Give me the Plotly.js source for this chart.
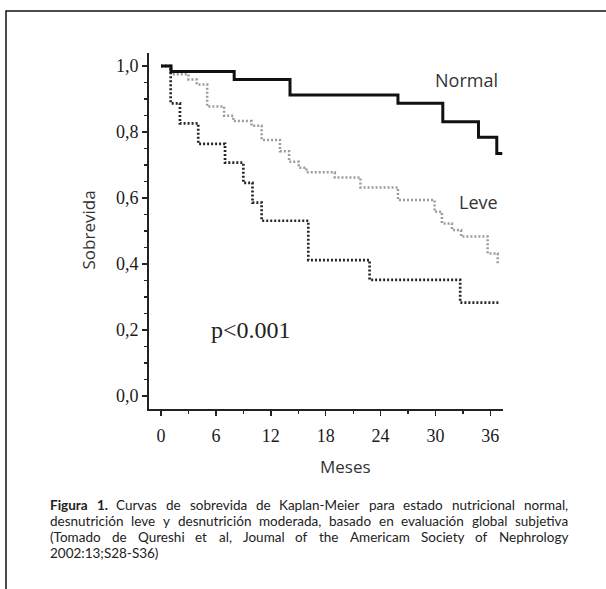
<!DOCTYPE html>
<html>
<head>
<meta charset="utf-8">
<script src="https://cdn.plot.ly/plotly-3.0.1.min.js"></script>
<style>
  html, body { margin: 0; padding: 0; background: #fff; overflow: hidden; }
  #chart { width: 606px; height: 589px; }
  #measure { position: absolute; left: -9999px; top: 0; white-space: pre; visibility: hidden; }
</style>
</head>
<body>
<div id="chart"></div>
<span id="measure"></span>
<script>
// ---- Data ----
const normalMonths = [0, 1.1, 8.0, 14.1, 25.9, 30.8, 34.7, 36.7, 37.3];
const normalSurv   = [1.0, 0.983, 0.959, 0.912, 0.887, 0.831, 0.784, 0.735, 0.735];

const leveMonths = [0, 1.1, 3.0, 3.9, 5.05, 6.9, 7.9, 9.9, 11.0, 13.0, 14.0, 15.05, 15.9, 19.0, 21.8, 25.9, 29.9, 30.7, 31.8, 32.8, 35.7, 36.8, 37.0];
const leveSurv   = [1.0, 0.975, 0.959, 0.944, 0.877, 0.849, 0.833, 0.819, 0.776, 0.742, 0.71, 0.692, 0.678, 0.662, 0.632, 0.594, 0.558, 0.523, 0.503, 0.483, 0.432, 0.402, 0.402];

const moderadaMonths = [0, 1.06, 2.07, 4.07, 7.0, 9.0, 10.0, 11.0, 16.1, 22.8, 32.7, 36.9];
const moderadaSurv   = [1.0, 0.887, 0.826, 0.764, 0.707, 0.646, 0.586, 0.531, 0.412, 0.352, 0.283, 0.283];

const seriesNames = ["Normal", "Leve", "Moderada"];
const pValueText = "p<0.001";
const xTitle = "Meses";
const yTitle = "Sobrevida";
const captionLines = [
  "<b>Figura 1.</b> Curvas de sobrevida de Kaplan-Meier para estado nutricional normal,",
  "desnutrición leve y desnutrición moderada, basado en evaluación global subjetiva",
  "(Tomado de Qureshi et al, Joumal of the Americam Society of Nephrology",
  "2002:13;S28-S36)"
];

// ---- Layout geometry ----
const W = 606, H = 589;
const M = { l: 149, r: 103, t: 53, b: 180 };
const PW = W - M.l - M.r, PH = H - M.t - M.b;
const px = x => (x - M.l) / PW;
const py = y => (H - M.b - y) / PH;

// ---- Caption (justified, word by word) ----
const capFamily = "Lato";
const meas = document.getElementById("measure");
meas.style.fontFamily = capFamily;
function measureTokens(tokens, size) {
  meas.style.fontSize = size + "px";
  return tokens.map(word => {
    const bold = /<b>/.test(word);
    meas.style.fontWeight = bold ? "bold" : "normal";
    meas.textContent = word.replace(/<\/?b>/g, "");
    return meas.getBoundingClientRect().width;
  });
}
const capLeft = 50, capRight = 568;
const capYs = [505, 521, 537, 553];
const tokenLines = captionLines.map(l => l.replace("<b>Figura 1.</b>", "<b>Figura</b> <b>1.</b>").split(" "));
let capSize = 13;
{
  let worst = 0;
  [0, 1].forEach(i => {
    const w = measureTokens(tokenLines[i], 12);
    const sp = measureTokens(["a b"], 12)[0] - measureTokens(["ab"], 12)[0];
    worst = Math.max(worst, w.reduce((a, b) => a + b, 0) + sp * (w.length - 1));
  });
  capSize = Math.min(13.5, 12 * (capRight - capLeft - 2) / worst);
}
const capAnnotations = [];
tokenLines.forEach((tokens, i) => {
  const justify = i < tokenLines.length - 1;
  const widths = measureTokens(tokens, capSize);
  const total = widths.reduce((a, b) => a + b, 0);
  const spaceW = measureTokens(["a b"], capSize)[0] - measureTokens(["ab"], capSize)[0];
  const gap = justify ? (capRight - capLeft - total) / (tokens.length - 1) : spaceW;
  let x = capLeft;
  tokens.forEach((t, k) => {
    capAnnotations.push({
      xref: "paper", yref: "paper", x: px(x), y: py(capYs[i]),
      xanchor: "left", yanchor: "middle", showarrow: false,
      borderpad: 0, borderwidth: 0,
      text: t, font: { family: capFamily, size: capSize, color: "#222" }
    });
    x += widths[k] + gap;
  });
});

const traces = [
  { x: leveMonths, y: leveSurv, name: seriesNames[1], mode: "lines",
    line: { shape: "hv", color: "#9c9c9c", width: 2.5, dash: "2px,2px" } },
  { x: moderadaMonths, y: moderadaSurv, name: seriesNames[2], mode: "lines",
    line: { shape: "hv", color: "#262626", width: 2.7, dash: "2px,2px" } },
  { x: normalMonths, y: normalSurv, name: seriesNames[0], mode: "lines",
    line: { shape: "hv", color: "#111", width: 3 } }
];

const labelFont = { family: "Open Sans", size: 18, color: "#333" };
const tickFont = { family: "Liberation Serif", size: 18, color: "#1a1a1a" };
const layout = {
  width: W, height: H,
  margin: M,
  paper_bgcolor: "#fff", plot_bgcolor: "#fff",
  showlegend: false,
  separators: ",.",
  xaxis: {
    range: [-1.31, 37.38], tick0: 0, dtick: 6,
    showline: true, linecolor: "#222", linewidth: 2,
    showgrid: false, zeroline: false,
    ticks: "outside", ticklen: 5, tickwidth: 1.5, tickcolor: "#222",
    minor: { dtick: 3, ticks: "outside", ticklen: 3, tickwidth: 1.2, tickcolor: "#222" },
    tickfont: tickFont,
    ticklabelstandoff: 4
  },
  yaxis: {
    range: [-0.0394, 1.0394], tick0: 0, dtick: 0.2, tickformat: ".1f",
    showline: true, linecolor: "#222", linewidth: 2,
    showgrid: false, zeroline: false,
    ticks: "outside", ticklen: 5, tickwidth: 1.5, tickcolor: "#222",
    minor: { dtick: 0.05, ticks: "outside", ticklen: 3, tickwidth: 1.2, tickcolor: "#222" },
    tickfont: tickFont
  },
  shapes: [
    { type: "rect", xref: "paper", yref: "paper",
      x0: px(6), x1: px(W + 50), y0: py(H + 50), y1: py(11),
      line: { color: "#111", width: 1.5 }, fillcolor: "rgba(0,0,0,0)" }
  ],
  annotations: [
    { xref: "x", yref: "y", x: 37.05, y: 0.958, xanchor: "right", yanchor: "middle",
      showarrow: false, text: seriesNames[0], font: labelFont },
    { xref: "x", yref: "y", x: 37.05, y: 0.589, xanchor: "right", yanchor: "middle",
      showarrow: false, text: seriesNames[1], font: labelFont },
    { xref: "x", yref: "y", x: 37.4, y: 0.2, xanchor: "right", yanchor: "middle",
      showarrow: false, text: seriesNames[2], font: labelFont },
    { xref: "x", yref: "y", x: 9.84, y: 0.2, xanchor: "center", yanchor: "middle",
      showarrow: false, text: pValueText,
      font: { family: "Liberation Serif", size: 24, color: "#222" } },
    { xref: "paper", yref: "paper", x: px(345), y: py(466.5), xanchor: "center", yanchor: "middle",
      showarrow: false, text: xTitle, font: { family: "Open Sans", size: 17, color: "#333" } },
    { xref: "paper", yref: "paper", x: px(88), y: py(230.5), xanchor: "center", yanchor: "middle",
      showarrow: false, textangle: -90, text: yTitle, font: { family: "Open Sans", size: 17, color: "#333" } }
  ].concat(capAnnotations)
};

Plotly.newPlot("chart", traces, layout, { staticPlot: true, displayModeBar: false });
</script>
</body>
</html>
